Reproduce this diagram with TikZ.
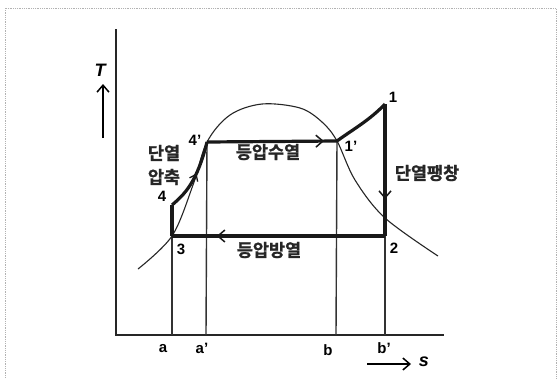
\documentclass[tikz,border=0pt]{standalone}
\usepackage{fontspec}
\setmainfont{Liberation Sans}
\newfontfamily\kofont{Noto Sans CJK KR Bold}[FakeBold=1.2]
\usetikzlibrary{arrows.meta,decorations.markings}
\tikzset{
  axis/.style={line width=1.8pt,black!85},
  guide/.style={line width=1.4pt,black!80},
  cyc/.style={line width=3.2pt,black!90,line join=miter},
  sat/.style={line width=1.1pt,black!85},
  lbl/.style={font=\bfseries\fontsize{15}{15}\selectfont,inner sep=0pt},
  kor/.style={font=\kofont\fontsize{17.5}{19}\selectfont,inner sep=0pt,text=black!85},
  midarrow/.style={postaction={decorate},decoration={markings,
     mark=at position #1 with {\arrow{Straight Barb[length=7pt,width=12pt,line width=1.5pt]}}}},
  smallarrow/.style={postaction={decorate},decoration={markings,
     mark=at position #1 with {\arrow{Straight Barb[length=6pt,width=9pt,line width=1.3pt]}}}},
}
\begin{document}
\begin{tikzpicture}[x=1pt,y=-1pt]
\useasboundingbox (0,0) rectangle (560,378);
\fill[white] (0,0) rectangle (560,378);
% frame
\draw[gray!60,densely dotted,line width=0.8pt] (5,385) -- (5,8) -- (556,8) -- (556,385);
% axes
\coordinate (O) at (116,335);
\coordinate (Ttop) at (116,29);
\coordinate (Send) at (444,335);
\draw[axis] (Ttop) -- (O) -- (Send);
% points
\coordinate (p1) at (385,104);
\coordinate (p1p) at (337,141);
\coordinate (p2) at (385,236);
\coordinate (p3) at (172,236);
\coordinate (p4) at (172,205);
\coordinate (p4p) at (207,142);
\coordinate (a) at (172,335);
\coordinate (ap) at (206,335);
\coordinate (b) at (336,335);
\coordinate (bp) at (385,335);
% guide lines
\draw[guide] (a) -- (p3);
\draw[guide] (ap) -- (p4p);
\draw[guide] (b) -- (p1p);
\draw[guide] (bp) -- (p2);
% saturation curve
\draw[sat] plot[smooth,tension=0.55] coordinates {(138,269) (172,236) (193,185) (207,142) (230,115) (262,104) (300,108) (322,122) (337,141) (355,180) (385,218) (438,256)};
% cycle
\draw[cyc] (p3) -- (p4);
\draw[cyc,smallarrow=0.55] (p4) .. controls (185,194) and (197,182) .. (p4p);
\draw[cyc,midarrow=0.9] (p4p) -- (p1p);
\draw[cyc] (p1p) .. controls (352,130) and (370,120) .. (p1);
\draw[cyc,midarrow=0.72] (p1) -- (p2);
\draw[cyc,midarrow=0.79] (p2) -- (p3);
% T axis label
\coordinate (Ta) at (103,138);
\coordinate (Tb) at (103,84);
\draw[line width=1.5pt,-{Straight Barb[length=7pt,width=12pt,line width=1.5pt]}] (Ta) -- (Tb);
\node[lbl,font=\bfseries\itshape\fontsize{18}{18}\selectfont] (T) at (100,70) {T};
% s axis label
\coordinate (sa) at (367,364);
\coordinate (sb) at (411,364);
\draw[line width=1.5pt,-{Straight Barb[length=7pt,width=12pt,line width=1.5pt]}] (sa) -- (sb);
\node[lbl,font=\bfseries\itshape\fontsize{18}{18}\selectfont] (s) at (424,362) {s};
% point labels
\node[lbl] (l1) at (393,97) {1};
\node[lbl] (l1p) at (351,146) {1'};
\node[lbl] (l2) at (394,248) {2};
\node[lbl] (l3) at (181,249) {3};
\node[lbl] (l4) at (162,196) {4};
\node[lbl] (l4p) at (195,140) {4'};
\node[lbl] (la) at (163,349) {a};
\node[lbl] (lap) at (202,348) {a'};
\node[lbl] (lb) at (328,350) {b};
\node[lbl] (lbp) at (384,348) {b'};
% process labels
\node[kor] (k1) at (164,153) {단열};
\node[kor] (k2) at (164,177) {압축};
\node[kor] (k3) at (268,152) {등압수열};
\node[kor] (k4) at (427,173) {단열팽창};
\node[kor] (k5) at (269,250) {등압방열};
\end{tikzpicture}
\end{document}
